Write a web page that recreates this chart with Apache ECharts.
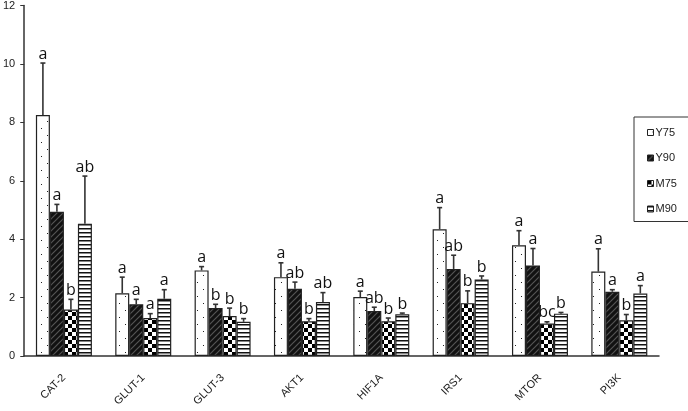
<!DOCTYPE html>
<html><head><meta charset="utf-8">
<script src="https://cdn.jsdelivr.net/npm/echarts@6/dist/echarts.min.js"></script>
<style>html,body{margin:0;padding:0;background:#fff}#c{width:688px;height:411px}</style>
</head><body><div id="c"></div>
<script>
const categories = ['CAT-2','GLUT-1','GLUT-3','AKT1','HIF1A','IRS1','MTOR','PI3K'];
const seriesNames = ['Y75','Y90','M75','M90'];
const yTicks = [0, 2, 4, 6, 8, 10, 12];
const y75 = [8.25, 2.15, 2.93, 2.70, 2.02, 4.34, 3.79, 2.89];
const y90 = [4.94, 1.77, 1.64, 2.30, 1.54, 2.98, 3.10, 2.20];
const m75 = [1.59, 1.30, 1.37, 1.19, 1.19, 1.81, 1.11, 1.22];
const m90 = [4.53, 1.96, 1.17, 1.85, 1.43, 2.62, 1.45, 2.14];
const y75Err = [1.78, 0.55, 0.13, 0.49, 0.20, 0.74, 0.50, 0.78];
const y90Err = [0.25, 0.17, 0.13, 0.23, 0.13, 0.47, 0.58, 0.07];
const m75Err = [0.35, 0.15, 0.27, 0.09, 0.11, 0.42, 0.06, 0.20];
const m90Err = [1.63, 0.31, 0.11, 0.32, 0.04, 0.12, 0.04, 0.27];
const y75Letters = ['a','a','a','a','a','a','a','a'];
const y90Letters = ['a','a','b','ab','ab','ab','a','a'];
const m75Letters = ['b','a','b','b','b','b','bc','b'];
const m90Letters = ['ab','a','b','ab','b','b','b','a'];

const values = [y75, y90, m75, m90];
const errs = [y75Err, y90Err, m75Err, m90Err];
const letters = [y75Letters, y90Letters, m75Letters, m90Letters];

function pat(w, h, draw) {
  const c = document.createElement('canvas');
  c.width = w; c.height = h;
  const ctx = c.getContext('2d');
  draw(ctx);
  return { image: c, repeat: 'repeat' };
}
const patterns = [
  pat(12, 14, ctx => { ctx.fillStyle = '#fff'; ctx.fillRect(0,0,12,14); ctx.fillStyle = '#222'; ctx.fillRect(5,2,1,1); ctx.fillRect(11,9,1,1); }),
  pat(6, 6, ctx => { ctx.fillStyle = '#111'; ctx.fillRect(0,0,6,6); ctx.strokeStyle = '#555'; ctx.lineWidth = 1.2;
    ctx.beginPath(); ctx.moveTo(-1,7); ctx.lineTo(7,-1); ctx.stroke(); ctx.beginPath(); ctx.moveTo(-4,4); ctx.lineTo(4,-4); ctx.stroke(); ctx.beginPath(); ctx.moveTo(2,10); ctx.lineTo(10,2); ctx.stroke(); }),
  pat(8, 8, ctx => { ctx.fillStyle = '#fff'; ctx.fillRect(0,0,8,8); ctx.fillStyle = '#000'; ctx.fillRect(0,0,4,4); ctx.fillRect(4,4,4,4); }),
  pat(4, 4, ctx => { ctx.fillStyle = '#fff'; ctx.fillRect(0,0,4,4); ctx.fillStyle = '#111'; ctx.fillRect(0,0,4,1.5); })
];

const BW = 14;
const series = [];
seriesNames.forEach((name, i) => {
  series.push({
    name: name, type: 'bar', data: values[i], barWidth: BW, barGap: '0%',
    itemStyle: { color: patterns[i], borderColor: '#222', borderWidth: 1.2 },
    z: 2
  });
});
seriesNames.forEach((name, i) => {
  const data = values[i].map((v, k) => [k, v, errs[i][k], letters[i][k]]);
  const off = (i - 1.5) * BW;
  series.push({
    type: 'custom', name: name + '_err', data: data, z: 5, silent: true,
    encode: { x: 0, y: 1 },
    renderItem: function (params, api) {
      const k = api.value(0), v = api.value(1), e = api.value(2);
      const base = api.coord([k, v]);
      const top = api.coord([k, v + e]);
      const x = base[0] + off;
      const lt = data[params.dataIndex][3];
      return {
        type: 'group',
        children: [
          { type: 'line', shape: { x1: x, y1: base[1], x2: x, y2: top[1] }, style: { stroke: '#333', lineWidth: 1.6 } },
          { type: 'line', shape: { x1: x - 2.5, y1: top[1], x2: x + 2.5, y2: top[1] }, style: { stroke: '#333', lineWidth: 1.6 } },
          { type: 'text', x: x, y: top[1] - 1, style: { text: lt, align: 'center', verticalAlign: 'bottom', fontFamily: 'Open Sans', fontSize: 16, fill: '#111' } }
        ]
      };
    }
  });
});

const chart = echarts.init(document.getElementById('c'), null, { renderer: 'canvas' });
chart.setOption({
  animation: false,
  backgroundColor: '#fff',
  grid: { left: 22, right: 29, top: 4, bottom: 55, containLabel: false },
  legend: {
    data: seriesNames, orient: 'vertical', left: 634, top: 117,
    icon: 'rect', itemWidth: 6, itemHeight: 6, itemGap: 14.5,
    borderColor: '#333', borderWidth: 1, padding: [10, 14, 7, 13],
    textStyle: { fontFamily: 'Liberation Sans', fontSize: 11, color: '#222', padding: [0, 0, 0, -3] },
    itemStyle: { borderColor: '#222', borderWidth: 1 }
  },
  xAxis: {
    type: 'category', data: categories,
    axisLine: { lineStyle: { color: '#333', width: 1.5 } },
    axisTick: { inside: true, length: 3, lineStyle: { color: '#333' } },
    axisLabel: { rotate: 45, margin: 20, fontFamily: 'Liberation Sans', fontSize: 11, color: '#222' }
  },
  yAxis: {
    type: 'value', min: 0, max: 12, interval: 2,
    axisLine: { show: true, lineStyle: { color: '#333', width: 1.5 } },
    axisTick: { show: true, length: 4, lineStyle: { color: '#333' } },
    axisLabel: { margin: 9, fontFamily: 'Liberation Sans', fontSize: 11, color: '#222',
      formatter: v => yTicks.indexOf(v) >= 0 ? String(v) : '' },
    splitLine: { show: false }
  },
  series: series
});
</script></body></html>
